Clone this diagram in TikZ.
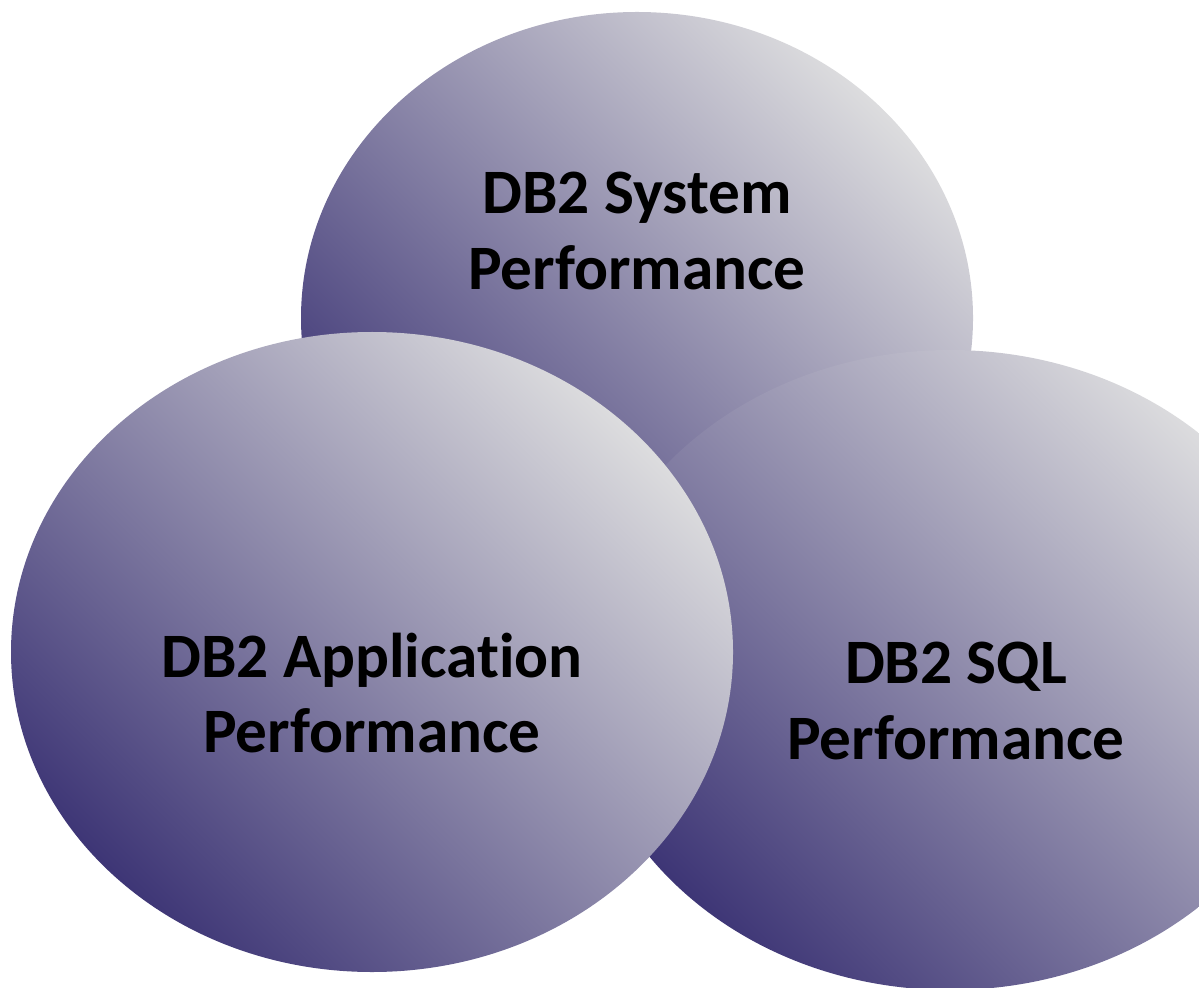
\documentclass[tikz,border=0pt]{standalone}
\usepackage{fontspec}
\setmainfont[Ligatures=NoCommon]{Carlito}
\usepackage{xcolor}
\usepackage{tikz}
\usetikzlibrary{positioning,calc}

\definecolor{navydark}{RGB}{62,54,118}
\definecolor{greylight}{RGB}{220,220,222}

\tikzset{
    blob/.style={left color=greylight, right color=navydark, shading angle=-45},
    label/.style={align=center, font=\bfseries\fontsize{18}{21.5}\selectfont}
}

\begin{document}
\begin{tikzpicture}
        \useasboundingbox (0,0) rectangle (11.99,9.87);

        % System circle (back)
        \shade[blob] (6.37,6.69) ellipse (3.36 and 3.06);
        \node[label] (system) at (6.37,7.56) {DB2 System\\Performance};

        % SQL circle (right)
        \shade[blob] (9.50,3.17) ellipse (3.70 and 3.20);
        \node[label] (sql) at (9.56,2.86) {DB2 SQL\\Performance};

        % Application circle (front)
        \shade[blob] (3.72,3.35) ellipse (3.61 and 3.20);
        \node[label] (app) at (3.72,2.94) {DB2 Application\\Performance};
    \end{tikzpicture}
\end{document}
